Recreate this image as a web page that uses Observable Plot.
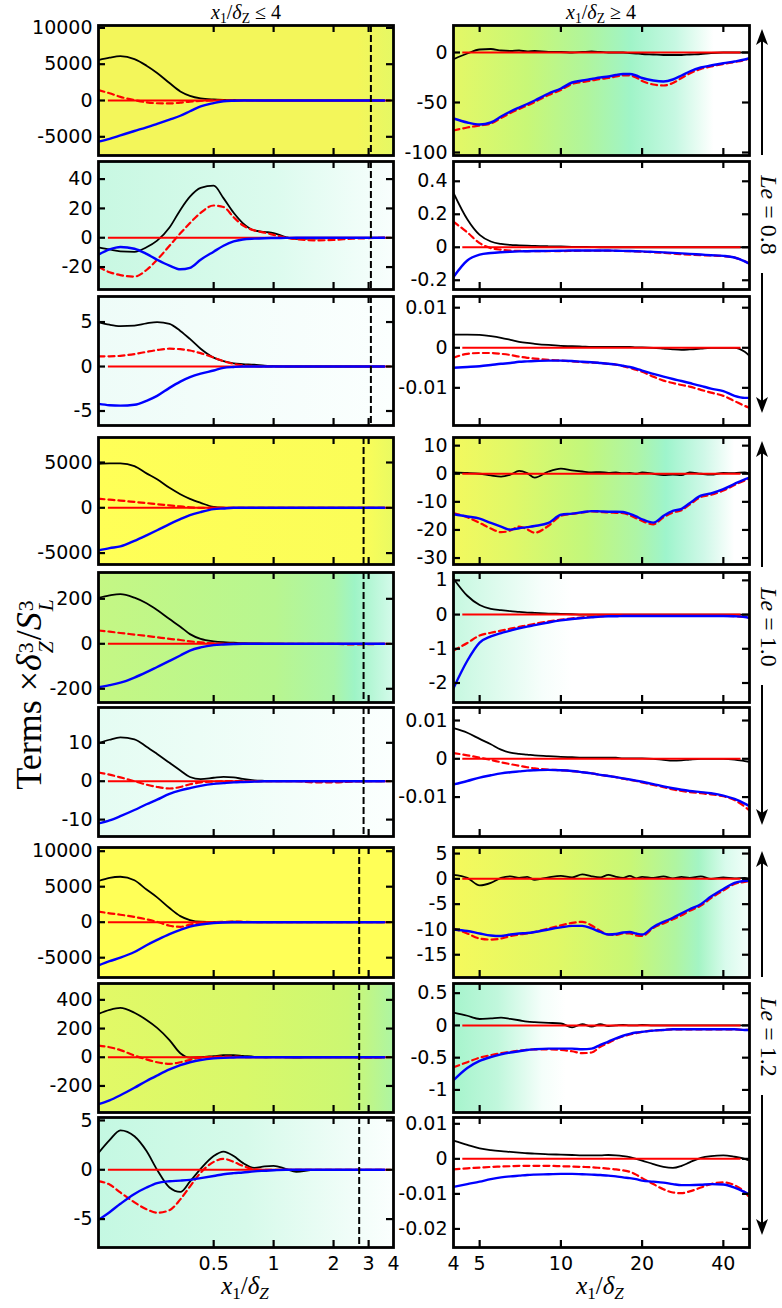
<!DOCTYPE html>
<html><head><meta charset="utf-8">
<script src="https://cdn.jsdelivr.net/npm/d3@7"></script>
<script src="https://cdn.jsdelivr.net/npm/@observablehq/plot@0.6"></script>
<style>
body{margin:0;background:#fff;}
#root{position:relative;width:782px;height:1308px;overflow:hidden;background:#fff;}
.lbl{position:absolute;font-family:"Liberation Serif","DejaVu Serif",serif;white-space:nowrap;color:#000;line-height:1.15;}
.mi{font-style:italic;}
.sb{font-size:0.68em;vertical-align:-0.3em;}
.ss{display:inline-flex;flex-direction:column;font-size:0.6em;line-height:0.95;vertical-align:0.38em;margin-left:1px;margin-right:1px;}
</style></head><body><div id="root"></div>
<script>
// ---------- x grids ----------
const xL = [0.132, 0.15, 0.17, 0.2, 0.23, 0.26, 0.3, 0.34, 0.38, 0.43, 0.5, 0.56, 0.63, 0.7, 0.8, 0.9, 1.0, 1.15, 1.3, 1.6, 2.0, 2.5, 3.0, 3.6];
const xR = [4, 4.5, 5, 5.5, 6, 6.5, 7, 7.5, 8, 9, 10, 11, 12, 13, 14, 15, 16, 17, 18, 19, 20, 22, 24, 26, 28, 30, 33, 36, 40, 44, 48, 50];
const xDomL = [0.132, 4];
const xDomR = [4, 50];
const xTicksL = [0.5, 1, 2, 3];
const xTicksR = [5, 10, 20, 40];
const xLabelsL = [0.5, 1, 2, 3, 4];
const xLabelsR = [4, 5, 10, 20, 40];
const dashX = [3.08, 2.83, 2.69];
const leLabels = ["0.8", "1.0", "1.2"];

// ---------- Le = 0.8 ----------
const p1L_k = [5570, 5900, 6100, 5700, 4800, 3800, 2400, 1250, 650, 300, 150, 100, 80, 50, 20, 0, 0, 0, 0, 0, 0, 0, 0, 0];
const p1L_r = [1430, 1000, 500, 50, -250, -380, -400, -300, -150, -50, 0, 0, 0, 0, 0, 0, 0, 0, 0, 0, 0, -20, -50, 0];
const p1L_b = [-5660, -5280, -4810, -4200, -3700, -3210, -2630, -2100, -1485, -810, -360, -100, -30, 0, 0, 0, 0, 0, 0, 0, 0, 0, 0, 0];
const p1R_k = [-6.7, -1, 3, 3.5, 2, 1.5, 2, 1, 1.5, 0.5, 0.5, 0, 0.5, 1, 0.5, 0, 0, 0, -0.5, -1, -1.5, -2, -2.5, -2.5, -2.5, -2, -1.5, -0.5, 0, 0, 0, 0];
const p1R_r = [-78, -75, -73, -71, -65.5, -60.5, -56.5, -53, -49.5, -42.5, -37.5, -31.5, -29.5, -28, -26.5, -25.5, -24, -23, -23, -25, -28.5, -32, -33, -30.5, -25.5, -21, -16.5, -14, -11.5, -9.5, -7.5, -6];
const p1R_b = [-66, -70, -72, -70, -64, -59, -55, -51.5, -48, -41, -36, -30, -28, -26.5, -25, -24, -22.5, -21.5, -21.5, -23, -25.5, -28, -29, -27, -23, -19, -15, -13, -10.7, -9, -7, -5.7];

const p2L_k = [-6.5, -8, -9.3, -9.6, -6.5, -2, 7, 19, 28, 34, 35.5, 27, 17, 10, 5, 4, 3.2, 0.5, -0.8, -0.6, -0.3, -0.2, -0.2, 0];
const p2L_r = [-20, -23.5, -25.5, -26.5, -22, -15, -5.5, 3, 10, 17, 22, 21, 14, 8.5, 5, 3.5, 2, 0, -1, -1.8, -1.5, -0.6, -0.3, 0];
const p2L_b = [-11.5, -8, -6.3, -7.5, -11, -15, -19, -21.5, -20.5, -15, -9.5, -5.5, -2.5, -1.2, -0.6, -0.3, -0.2, -0.1, 0, 0, 0, 0, 0, 0];
const p2R_k = [0.33, 0.17, 0.075, 0.035, 0.02, 0.014, 0.012, 0.01, 0.008, 0.006, 0.005, 0.003, 0.002, 0.001, 0, 0, 0, 0, 0, 0, 0, 0, 0, 0, 0, 0, 0, 0, 0, 0, 0, 0];
const p2R_r = [0.155, 0.09, 0.025, -0.005, -0.015, -0.02, -0.022, -0.023, -0.023, -0.023, -0.023, -0.022, -0.021, -0.021, -0.021, -0.021, -0.022, -0.023, -0.024, -0.025, -0.027, -0.03, -0.034, -0.038, -0.042, -0.045, -0.048, -0.05, -0.054, -0.063, -0.085, -0.1];
const p2R_b = [-0.18, -0.08, -0.045, -0.035, -0.03, -0.027, -0.025, -0.024, -0.023, -0.022, -0.021, -0.02, -0.02, -0.02, -0.02, -0.02, -0.021, -0.022, -0.023, -0.024, -0.025, -0.028, -0.031, -0.034, -0.037, -0.04, -0.044, -0.048, -0.052, -0.062, -0.085, -0.1];

const p3L_k = [5.0, 4.7, 4.55, 4.6, 4.85, 5.0, 4.8, 4.0, 3.1, 2.0, 1.0, 0.6, 0.35, 0.27, 0.2, 0.1, 0.05, 0, 0, 0, 0, 0, 0, 0];
const p3L_r = [1.15, 1.15, 1.2, 1.4, 1.65, 1.85, 2.0, 1.95, 1.8, 1.5, 1.0, 0.6, 0.3, 0.15, 0.05, 0, 0, 0, 0, 0, 0, 0, 0, 0];
const p3L_b = [-4.2, -4.35, -4.4, -4.3, -3.85, -3.3, -2.4, -1.7, -1.2, -0.8, -0.45, -0.15, -0.05, 0, 0, 0, 0, 0, 0, 0, 0, 0, 0, 0];
const p3R_k = [0.0033, 0.0033, 0.0032, 0.0029, 0.0025, 0.002, 0.0015, 0.0012, 0.001, 0.0007, 0.0005, 0.0004, 0.0003, 0.0002, 0.0002, 0.0002, 0.0002, 0.0002, 0.0002, 0.0001, 0.0001, 0, -0.0002, -0.0004, -0.0005, -0.0004, -0.0002, 0, 0, 0, -0.001, -0.002];
const p3R_r = [-0.0025, -0.0015, -0.0013, -0.0013, -0.0015, -0.0018, -0.0022, -0.0025, -0.0027, -0.003, -0.0032, -0.0034, -0.0036, -0.0037, -0.0038, -0.004, -0.0042, -0.0046, -0.005, -0.0055, -0.006, -0.0072, -0.0082, -0.0088, -0.0093, -0.0097, -0.0105, -0.0112, -0.012, -0.0133, -0.0145, -0.015];
const p3R_b = [-0.005, -0.0048, -0.0046, -0.0043, -0.004, -0.0038, -0.0035, -0.0034, -0.0033, -0.0032, -0.0032, -0.0033, -0.0035, -0.0036, -0.0038, -0.004, -0.0042, -0.0045, -0.0048, -0.0052, -0.0057, -0.0065, -0.0072, -0.0078, -0.0083, -0.0088, -0.0095, -0.0102, -0.0108, -0.012, -0.0125, -0.0125];

// ---------- Le = 1.0 ----------
const p4L_k = [4850, 4900, 4900, 4600, 3800, 3150, 2200, 1500, 990, 550, 100, 20, 0, 0, 0, 0, 0, 0, 0, 0, 0, 0, 0, 0];
const p4L_r = [1000, 900, 800, 650, 520, 400, 270, 150, 50, 0, 0, 0, 0, 0, 0, 0, 0, 0, 0, 0, 0, 0, 0, 0];
const p4L_b = [-4700, -4450, -4260, -3650, -3040, -2480, -1800, -1260, -810, -470, -150, -70, 0, 0, 0, 0, 0, 0, 0, 0, 0, 0, 0, 0];
const p4R_k = [0.5, 0.3, 0, -0.6, -1, -0.3, 1, 0.2, -1.4, 0.8, 1.8, 1.2, 0.8, 0.5, 0.6, 0.3, 0.5, 0.2, 0.3, 0, 0.5, 0, -0.5, -0.3, -0.5, 0.5, 0, -0.3, 0.3, 0.2, 0.5, 0];
const p4R_r = [-14, -15.5, -17.5, -19.5, -20.8, -20.2, -18.8, -19.8, -21, -18.5, -15, -14.3, -13.8, -13.4, -13.6, -13.8, -13.9, -14, -14.8, -15.8, -16.8, -18, -15.5, -13.8, -13, -11, -8.3, -7.5, -6, -4, -2.4, -1.6];
const p4R_b = [-14.4, -15.2, -16, -17.5, -18.8, -19.9, -19.4, -19, -18.6, -17.5, -14.6, -14.2, -13.7, -13.3, -13.4, -13.5, -13.5, -13.6, -14.3, -15.2, -16.2, -17.4, -15, -13.2, -12.5, -10.5, -7.8, -7, -5.5, -3.6, -2, -1.4];

const p5L_k = [204, 215, 221, 205, 180, 150, 110, 76, 43, 22, 11, 7, 5, 3, 2, 1, 0.5, 0, 0, 0, 0, 0, 0, 0];
const p5L_r = [59, 54, 48, 41, 35, 29, 22, 17, 11, 6, 2, 0, 0, 0, 0, 0, 0, 0, 0, 0, 0, -3, -2, 0];
const p5L_b = [-193, -184, -173, -150, -126, -103, -76, -52, -30, -16, -6, -3, -1, 0, 0, 0, 0, 0, 0, 0, 0, 0, 0, 0];
const p5R_k = [1.05, 0.55, 0.28, 0.17, 0.13, 0.1, 0.08, 0.06, 0.05, 0.03, 0.02, 0.01, 0, 0, 0, 0, 0, 0, 0, 0, 0, 0, 0, 0, 0, 0, 0, 0, 0, 0, 0, 0];
const p5R_r = [-1.05, -0.83, -0.61, -0.53, -0.47, -0.41, -0.36, -0.31, -0.27, -0.2, -0.15, -0.11, -0.08, -0.06, -0.05, -0.04, -0.04, -0.04, -0.04, -0.04, -0.04, -0.04, -0.04, -0.04, -0.04, -0.04, -0.04, -0.04, -0.04, -0.05, -0.07, -0.1];
const p5R_b = [-2.15, -1.35, -0.82, -0.64, -0.54, -0.47, -0.4, -0.35, -0.31, -0.23, -0.17, -0.13, -0.1, -0.08, -0.06, -0.05, -0.05, -0.04, -0.04, -0.04, -0.04, -0.04, -0.04, -0.04, -0.04, -0.04, -0.04, -0.04, -0.04, -0.05, -0.07, -0.1];

const p6L_k = [9.9, 10.8, 11.4, 10.9, 9.0, 7.1, 4.8, 2.8, 1.1, 0.55, 0.9, 1.15, 1.0, 0.6, 0.2, 0.1, 0.05, 0, 0, 0, 0, 0, 0, 0];
const p6L_r = [2.26, 1.7, 1.0, 0, -0.9, -1.5, -1.9, -1.5, -0.8, -0.3, -0.1, 0, 0, 0, 0, 0, 0, 0, 0, -0.3, -0.3, -0.1, 0, 0];
const p6L_b = [-11, -10.2, -9.1, -7.5, -6.0, -4.8, -3.3, -2.4, -1.8, -1.2, -0.7, -0.5, -0.3, -0.2, -0.1, 0, 0, 0, 0, 0, 0, 0, 0, 0];
const p6R_k = [0.008, 0.0068, 0.0052, 0.0038, 0.0024, 0.0016, 0.0013, 0.0011, 0.0009, 0.0007, 0.0005, 0.0004, 0.0003, 0.0003, 0.0003, 0.0003, 0.0003, 0.0001, 0.0001, 0.0001, 0.0001, 0, -0.0003, -0.0005, -0.0004, -0.0002, 0, 0, 0, -0.0002, -0.0006, -0.0008];
const p6R_r = [0.0015, 0.0009, 0.0003, -0.0003, -0.0009, -0.0014, -0.0018, -0.0022, -0.0025, -0.0028, -0.003, -0.0032, -0.0035, -0.0038, -0.0042, -0.0045, -0.0048, -0.0052, -0.0055, -0.0058, -0.0062, -0.0068, -0.0074, -0.008, -0.0084, -0.0087, -0.009, -0.0093, -0.0098, -0.0108, -0.0125, -0.0135];
const p6R_b = [-0.0067, -0.0058, -0.0049, -0.0043, -0.0038, -0.0035, -0.0033, -0.0031, -0.003, -0.0029, -0.003, -0.0032, -0.0035, -0.0038, -0.0042, -0.0045, -0.0048, -0.0051, -0.0054, -0.0057, -0.006, -0.0066, -0.0072, -0.0077, -0.0081, -0.0084, -0.0087, -0.009, -0.0096, -0.0105, -0.0117, -0.0124];

// ---------- Le = 1.2 ----------
const p7L_k = [5800, 6250, 6400, 5900, 4600, 3500, 2000, 850, 300, 60, 30, 40, 60, 50, 20, 0, 0, 0, 0, 0, 0, 0, 0, 0];
const p7L_r = [1500, 1250, 1050, 750, 400, 50, -500, -650, -350, -80, 0, 50, 80, 60, 20, 0, 0, 0, 0, 0, 0, 0, 0, 0];
const p7L_b = [-6100, -5500, -5000, -4200, -3250, -2500, -1680, -1080, -630, -330, -120, -40, 0, 0, 0, 0, 0, 0, 0, 0, 0, 0, 0, 0];
const p7R_k = [0.8, 0.2, -1.3, -0.8, 0.2, 0.5, 0.2, 0.4, -0.2, 0.3, 0.6, 0.3, 0.9, 0.5, 0.3, 0.8, 0.4, 0.2, 0.6, 0.1, 0.4, 0.2, 0.5, 0.1, 0.4, 0.2, 0.5, 0, 0.3, 0.1, 0.2, 0];
const p7R_r = [-9.8, -10.8, -11.8, -12, -11.8, -11.3, -11, -10.8, -10.5, -9.8, -9.2, -8.7, -8.5, -9.2, -10.3, -11, -11.1, -10.8, -10.8, -11.2, -11.3, -9.7, -8.8, -8, -7.2, -6.3, -5.3, -3.8, -2.3, -1, -0.6, -0.4];
const p7R_b = [-10, -10.3, -10.8, -11.2, -11.3, -11, -10.8, -10.7, -10.5, -10, -9.6, -9.3, -9.3, -9.8, -10.5, -11, -10.9, -10.6, -10.5, -10.8, -11, -9.5, -8.5, -7.7, -6.8, -6, -5, -3.5, -2, -0.8, -0.4, -0.3];

const p8L_k = [302, 330, 344, 310, 260, 205, 120, 28, -3, 0, 8, 14, 15, 10, 3, 0, 3, 0, -3, 0, 0, 0, 0, 0];
const p8L_r = [81, 70, 50, 12, -15, -35, -46, -35, -18, -2, 3, 5, 5, 2, 0, 0, 0, 0, 0, 0, 0, 0, -3, 0];
const p8L_b = [-326, -300, -265, -213, -165, -127, -85, -55, -35, -19, -8, -4, -2, 0, 0, 0, 0, 0, 0, 0, 0, 0, 0, 0];
const p8R_k = [0.2, 0.15, 0.1, 0.11, 0.12, 0.1, 0.08, 0.06, 0.05, 0.04, 0.03, -0.03, 0.02, -0.02, 0.02, -0.01, 0, 0.01, 0, 0, 0.01, 0, 0, 0, 0, 0, 0, 0, 0, 0, 0, 0];
const p8R_r = [-0.65, -0.57, -0.5, -0.46, -0.43, -0.41, -0.39, -0.38, -0.37, -0.37, -0.38, -0.4, -0.43, -0.42, -0.33, -0.27, -0.21, -0.17, -0.14, -0.12, -0.1, -0.08, -0.07, -0.06, -0.06, -0.06, -0.06, -0.06, -0.06, -0.06, -0.07, -0.07];
const p8R_b = [-0.85, -0.66, -0.55, -0.49, -0.45, -0.42, -0.4, -0.38, -0.37, -0.36, -0.36, -0.36, -0.37, -0.36, -0.3, -0.25, -0.2, -0.16, -0.13, -0.11, -0.1, -0.08, -0.07, -0.06, -0.06, -0.06, -0.06, -0.06, -0.06, -0.06, -0.07, -0.07];

const p9L_k = [1.7, 3.0, 4.0, 3.4, 1.9, 0, -1.8, -2.25, -1.2, 0.1, 1.4, 1.85, 1.4, 0.7, 0.2, 0.35, 0.4, 0.1, -0.2, 0, 0, 0, 0, 0];
const p9L_r = [-1.15, -1.5, -2.3, -3.3, -4.0, -4.35, -4.1, -3.0, -1.7, -0.3, 0.8, 1.1, 0.8, 0.4, 0.05, 0, 0, 0, 0, 0, 0, 0, 0, 0];
const p9L_b = [-5.07, -4.3, -3.45, -2.45, -1.8, -1.35, -1.16, -1.1, -1.02, -0.85, -0.63, -0.45, -0.34, -0.27, -0.16, -0.1, -0.05, 0, 0, 0, 0, 0, 0, 0];
const p9R_k = [0.0052, 0.004, 0.003, 0.0025, 0.0022, 0.002, 0.0018, 0.0016, 0.0015, 0.0013, 0.0012, 0.0011, 0.001, 0.001, 0.001, 0.0011, 0.001, 0.0008, 0.0005, 0, -0.0005, -0.0015, -0.0023, -0.0026, -0.002, -0.001, 0.0003, 0.0008, 0.001, 0.0006, 0, -0.0005];
const p9R_r = [-0.003, -0.0027, -0.0025, -0.0023, -0.0022, -0.0021, -0.002, -0.002, -0.002, -0.002, -0.0021, -0.0022, -0.0023, -0.0024, -0.0026, -0.0028, -0.003, -0.0033, -0.0037, -0.0045, -0.0055, -0.0072, -0.0087, -0.0096, -0.0098, -0.0093, -0.0082, -0.0072, -0.0067, -0.0075, -0.0095, -0.011];
const p9R_b = [-0.008, -0.0072, -0.0065, -0.0058, -0.0053, -0.005, -0.0048, -0.0046, -0.0045, -0.0044, -0.0043, -0.0043, -0.0044, -0.0045, -0.0046, -0.0048, -0.005, -0.0053, -0.0055, -0.0058, -0.0062, -0.0065, -0.0068, -0.0072, -0.0075, -0.0075, -0.0074, -0.0072, -0.0073, -0.0082, -0.0095, -0.0102];

// ---------- y domains & ticks ----------
const yd = {
  p1L: [-7575, 10330], p1R: [-103, 27],
  p2L: [-35.3, 52], p2R: [-0.256, 0.52],
  p3L: [-6.63, 7.87], p3R: [-0.0194, 0.0128],
  p4L: [-6260, 7760], p4R: [-32.3, 12.9],
  p5L: [-261, 317], p5R: [-2.57, 1.23],
  p6L: [-14.4, 19.2], p6R: [-0.0203, 0.0134],
  p7L: [-7790, 10520], p7R: [-19.5, 6.2],
  p8L: [-385, 514], p8R: [-1.35, 0.65],
  p9L: [-7.88, 5.3], p9R: [-0.0253, 0.0118]
};
const yt = {
  p1L: [-5000, 0, 5000, 10000], p1R: [-100, -50, 0],
  p2L: [-20, 0, 20, 40], p2R: [-0.2, 0, 0.2, 0.4],
  p3L: [-5, 0, 5], p3R: [-0.01, 0, 0.01],
  p4L: [-5000, 0, 5000], p4R: [-30, -20, -10, 0, 10],
  p5L: [-200, 0, 200], p5R: [-2, -1, 0, 1],
  p6L: [-10, 0, 10], p6R: [-0.01, 0, 0.01],
  p7L: [-5000, 0, 5000, 10000], p7R: [-15, -10, -5, 0, 5],
  p8L: [-200, 0, 200, 400], p8R: [-1, -0.5, 0, 0.5],
  p9L: [-5, 0, 5], p9R: [-0.02, -0.01, 0, 0.01]
};
const series = {
  p1L: [p1L_k, p1L_r, p1L_b], p1R: [p1R_k, p1R_r, p1R_b],
  p2L: [p2L_k, p2L_r, p2L_b], p2R: [p2R_k, p2R_r, p2R_b],
  p3L: [p3L_k, p3L_r, p3L_b], p3R: [p3R_k, p3R_r, p3R_b],
  p4L: [p4L_k, p4L_r, p4L_b], p4R: [p4R_k, p4R_r, p4R_b],
  p5L: [p5L_k, p5L_r, p5L_b], p5R: [p5R_k, p5R_r, p5R_b],
  p6L: [p6L_k, p6L_r, p6L_b], p6R: [p6R_k, p6R_r, p6R_b],
  p7L: [p7L_k, p7L_r, p7L_b], p7R: [p7R_k, p7R_r, p7R_b],
  p8L: [p8L_k, p8L_r, p8L_b], p8R: [p8R_k, p8R_r, p8R_b],
  p9L: [p9L_k, p9L_r, p9L_b], p9R: [p9R_k, p9R_r, p9R_b]
};

// ---------- background gradients (style) ----------
const WHITE = [[0, "#ffffff"], [1, "#ffffff"]];
const bgs = {
  p1L: [[0, "#f3f65a"], [0.88, "#f3f65a"], [1, "#e6f864"]],
  p1R: [[0, "#e4f866"], [0.25, "#c8f777"], [0.45, "#b0f59c"], [0.6, "#a0f4c8"], [0.75, "#c6f8e2"], [0.88, "#ffffff"], [1, "#ffffff"]],
  p2L: [[0, "#c8f8e2"], [0.6, "#dcfbee"], [1, "#f8fefd"]],
  p2R: WHITE,
  p3L: [[0, "#eefcf8"], [1, "#fbfffe"]],
  p3R: WHITE,
  p4L: [[0, "#ffff57"], [0.9, "#fbfd58"], [1, "#e9fa62"]],
  p4R: [[0, "#f3f95e"], [0.2, "#e0f868"], [0.45, "#c2f77c"], [0.62, "#aef5a6"], [0.72, "#9ef4cc"], [0.85, "#d0f8e8"], [0.95, "#ffffff"], [1, "#ffffff"]],
  p5L: [[0, "#c4f784"], [0.6, "#b8f690"], [0.8, "#acf5a8"], [0.87, "#9ef4c6"], [1, "#d4faea"]],
  p5R: [[0, "#c6f8e0"], [0.3, "#f6fefb"], [0.4, "#ffffff"], [1, "#ffffff"]],
  p6L: [[0, "#e4fcf2"], [1, "#fbfffe"]],
  p6R: WHITE,
  p7L: [[0, "#ffff57"], [1, "#ffff57"]],
  p7R: [[0, "#f5f95c"], [0.35, "#e0f866"], [0.6, "#c8f776"], [0.75, "#b0f5a0"], [0.83, "#a4f4c4"], [0.92, "#d8fbec"], [1, "#f2fefa"]],
  p8L: [[0, "#e2f966"], [0.5, "#d8f86a"], [0.85, "#ccf772"], [1, "#aef5a2"]],
  p8R: [[0, "#a6f4cc"], [0.15, "#c0f7dc"], [0.3, "#f4fefa"], [0.38, "#ffffff"], [1, "#ffffff"]],
  p9L: [[0, "#c4f8e2"], [0.5, "#d6faea"], [0.85, "#f0fdf8"], [1, "#fbfffe"]],
  p9R: WHITE
};

// ---------- layout ----------
const panelTops = [25, 161, 296, 437, 572, 707, 847, 983, 1117];
const panelBottoms = [155, 289, 425, 564, 702, 836, 977, 1112, 1247];
const groupTops = [25, 437, 847];
const root = document.getElementById("root");

function buildPanel(key, row, col, idx) {
  const isL = col === "L";
  const fx0 = isL ? 98 : 453, fx1 = isL ? 393 : 749;
  const fy0 = panelTops[row], fy1 = panelBottoms[row];
  const fw = fx1 - fx0, fh = fy1 - fy0;
  const last = row === 8;
  const ml = isL ? 98 : 62, mr = 6, mt = 4, mb = last ? 36 : 4;
  const xs = isL ? xL : xR;
  const rows = arr => arr.map((v, j) => ({x: xs[j], y: v}));
  const [k, r, b] = series[key];
  const xt = isL ? xTicksL : xTicksR;
  const gid = "bgGrad" + idx;
  const stops = bgs[key];
  const bgMark = () => {
    const g = d3.create("svg:g");
    const lg = g.append("defs").append("linearGradient")
      .attr("id", gid).attr("x1", "0").attr("x2", "1").attr("y1", "0").attr("y2", "0");
    stops.forEach(([o, c]) => lg.append("stop").attr("offset", o).attr("stop-color", c));
    g.append("rect").attr("x", ml).attr("y", mt).attr("width", fw).attr("height", fh)
      .attr("fill", `url(#${gid})`);
    return g.node();
  };
  const tickStyle = {stroke: "#000", strokeWidth: 2.2};
  const marks = [
    bgMark,
    Plot.line(rows(k), {x: "x", y: "y", stroke: "#000", strokeWidth: 1.8, curve: "monotone-x", clip: true}),
    Plot.ruleY([0], {x1: isL ? 0.148 : 4.33, x2: isL ? 3.9 : 46.5, stroke: "#ff0000", strokeWidth: 2}),
    Plot.line(rows(r), {x: "x", y: "y", stroke: "#ff0000", strokeWidth: 2.2, strokeDasharray: "6,4", curve: "monotone-x", clip: true}),
    Plot.line(rows(b), {x: "x", y: "y", stroke: "#0000ff", strokeWidth: 2.4, curve: "monotone-x", clip: true}),
    isL ? Plot.ruleX([dashX[Math.floor(row / 3)]], {stroke: "#000", strokeWidth: 2, strokeDasharray: "7,3"}) : null,
    Plot.frame({stroke: "#000", strokeWidth: 2.8}),
    Plot.ruleY(yt[key], {...tickStyle, insetRight: fw - 7}),
    Plot.ruleY(yt[key], {...tickStyle, insetLeft: fw - 7}),
    Plot.ruleX(xt, {...tickStyle, insetBottom: fh - 7}),
    Plot.ruleX(xt, {...tickStyle, insetTop: fh - 7}),
    Plot.axisY({ticks: yt[key], tickSize: 0, tickPadding: 6, tickFormat: d => String(d), label: null, fontSize: 19}),
    last ? Plot.axisX({ticks: isL ? xLabelsL : xLabelsR, tickSize: 0, tickPadding: 9, tickFormat: d => String(d), label: null, fontSize: 19}) : null
  ].filter(Boolean);
  const xOpts = {type: "log", domain: isL ? xDomL : xDomR};
  if (!last) xOpts.axis = null;
  const plot = Plot.plot({
    width: ml + fw + mr, height: mt + fh + mb,
    marginLeft: ml, marginRight: mr, marginTop: mt, marginBottom: mb,
    style: {background: "transparent", maxWidth: "none", overflow: "visible", fontFamily: "'DejaVu Sans', sans-serif", fontSize: "19px", color: "#000"},
    x: xOpts,
    y: {domain: yd[key]},
    marks
  });
  const wrap = document.createElement("div");
  wrap.style.cssText = `position:absolute;left:${fx0 - ml}px;top:${fy0 - mt}px;`;
  wrap.appendChild(plot);
  root.appendChild(wrap);
}

let idx = 0;
for (let row = 0; row < 9; row++) {
  buildPanel(`p${row + 1}L`, row, "L", idx++);
  buildPanel(`p${row + 1}R`, row, "R", idx++);
}

// ---------- labels ----------
function addLabel(html, x, y, size, rot, lh) {
  const d = document.createElement("div");
  d.className = "lbl";
  d.innerHTML = html;
  d.style.left = x + "px";
  d.style.top = y + "px";
  d.style.fontSize = size + "px";
  if (lh) d.style.lineHeight = lh;
  d.style.transform = `translate(-50%,-50%)` + (rot ? ` rotate(${rot}deg)` : "");
  root.appendChild(d);
}
const topTitle = sym => `<span class="mi">x</span><span class="sb">1</span>/<span class="mi">δ</span><span class="sb">Z</span> ${sym} 4`;
addLabel(topTitle("≤"), 246, 14, 20);
addLabel(topTitle("≥"), 601, 14, 20);
const botTitle = `<span class="mi">x</span><span class="sb">1</span>/<span class="mi">δ</span><span class="sb mi">Z</span>`;
addLabel(botTitle, 245, 1288, 25);
addLabel(botTitle, 600, 1288, 25);
addLabel(`Terms ×<span class="mi">δ</span><span class="ss"><span>3</span><span class="mi">Z</span></span>/<span class="mi">S</span><span class="ss"><span>3</span><span class="mi">L</span></span>`, 33, 694, 36, -90);
groupTops.forEach((T, g) => addLabel(`<span class="mi">Le</span> = ${leLabels[g]}`, 769, T + 190, 24, 90, "1"));

// ---------- arrows ----------
const ov = d3.select(root).append("svg").attr("width", 782).attr("height", 1308)
  .style("position", "absolute").style("left", "0px").style("top", "0px");
groupTops.forEach(T => {
  const ax = 762;
  ov.append("line").attr("x1", ax).attr("x2", ax).attr("y1", T + 14).attr("y2", T + 130).attr("stroke", "#000").attr("stroke-width", 2);
  ov.append("path").attr("d", `M${ax},${T + 4}L${ax - 6},${T + 20}L${ax},${T + 16}L${ax + 6},${T + 20}Z`).attr("fill", "#000");
  ov.append("line").attr("x1", ax).attr("x2", ax).attr("y1", T + 248).attr("y2", T + 378).attr("stroke", "#000").attr("stroke-width", 2);
  ov.append("path").attr("d", `M${ax},${T + 388}L${ax - 6},${T + 372}L${ax},${T + 376}L${ax + 6},${T + 372}Z`).attr("fill", "#000");
});
</script></body></html>
